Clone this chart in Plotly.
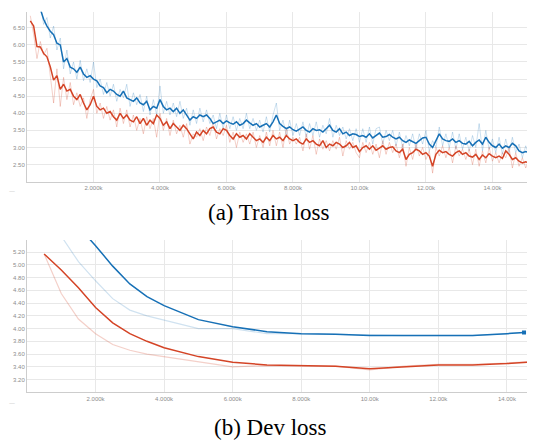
import plotly.graph_objects as go

# ---------------- Train loss data ----------------
train_steps_red = list(range(100, 15300, 100))
train_red_smooth = [
    6.70, 6.55, 5.95, 5.94, 5.75, 5.65, 5.36, 4.97, 5.10, 4.70,
    4.85, 4.65, 4.70, 4.50, 4.40, 4.55, 4.30, 4.10, 4.25, 4.50,
    4.20, 4.10, 4.15, 4.00, 4.05, 3.90, 3.80, 4.00, 3.85, 3.95,
    3.80, 3.75, 3.90, 3.70, 3.85, 3.65, 3.80, 3.70, 3.95, 3.85,
    3.65, 3.75, 3.55, 3.70, 3.60, 3.50, 3.65, 3.55, 3.40, 3.25,
    3.45, 3.35, 3.50, 3.40, 3.55, 3.60, 3.45, 3.40, 3.55, 3.50,
    3.35, 3.25, 3.40, 3.30, 3.35, 3.25, 3.40, 3.30, 3.20, 3.25,
    3.15, 3.30, 3.20, 3.35, 3.25, 3.30, 3.20, 3.35, 3.25, 3.20,
    3.25, 3.15, 3.10, 3.25, 3.15, 3.20, 3.10, 3.05, 3.20, 3.00,
    3.10, 3.05, 3.15, 3.10, 3.00, 3.05, 3.15, 3.00, 3.05, 2.88,
    3.00, 3.05, 2.95, 3.05, 2.92, 2.98, 3.05, 2.95, 3.00, 3.02,
    2.90, 2.85, 2.95, 2.65, 2.80, 2.85, 2.95, 2.90, 2.80, 2.85,
    2.75, 2.45, 2.80, 2.92, 2.85, 2.88, 2.80, 2.75, 2.85, 2.90,
    2.80, 2.85, 2.75, 2.72, 2.80, 2.65, 2.78, 2.70, 2.82, 2.75,
    2.70, 2.75, 2.68, 2.90, 2.80, 2.65, 2.70, 2.60, 2.55, 2.58,
    2.55, 2.52,
]
train_red_raw = [
    6.85, 6.30, 5.60, 6.10, 5.70, 5.90, 5.10, 4.30, 5.30, 4.20,
    5.05, 4.40, 4.90, 4.25, 4.60, 4.20, 4.45, 3.85, 4.40, 4.70,
    4.00, 4.30, 3.85, 4.20, 3.80, 4.10, 3.60, 4.15, 3.70, 4.10,
    3.60, 3.95, 3.50, 3.85, 3.40, 3.90, 3.55, 3.85, 3.30, 4.00,
    3.50, 3.85, 3.35, 3.80, 3.40, 3.65, 3.30, 3.70, 3.10, 3.40,
    3.30, 3.55, 3.20, 3.60, 3.35, 3.75, 3.25, 3.55, 3.35, 3.65,
    3.15, 3.45, 3.00, 3.45, 3.15, 3.40, 3.10, 3.45, 3.00, 3.35,
    3.00, 3.45, 3.05, 3.50, 3.05, 3.45, 3.00, 3.55, 3.10, 3.30,
    3.10, 3.30, 2.90, 3.40, 2.95, 3.35, 2.80, 3.25, 2.95, 3.20,
    2.90, 3.20, 2.95, 3.30, 2.75, 3.20, 2.95, 3.15, 2.85, 2.70,
    3.15, 2.85, 3.15, 2.80, 3.10, 2.70, 3.20, 2.80, 3.15, 2.85,
    3.10, 2.70, 3.10, 2.45, 3.00, 2.65, 3.10, 2.75, 3.00, 2.65,
    2.90, 2.25, 3.00, 2.75, 3.05, 2.70, 3.00, 2.55, 3.05, 2.75,
    2.95, 2.65, 2.95, 2.50, 2.95, 2.45, 2.90, 2.55, 3.00, 2.60,
    2.85, 2.55, 2.85, 2.70, 3.00, 2.40, 2.85, 2.45, 2.70, 2.40,
    2.65, 2.35,
]

train_steps_blue = list(range(400, 15300, 100))
train_blue_smooth = [
    7.05, 6.75, 6.55, 6.40, 6.30, 6.05, 6.00,
    5.50, 5.60, 5.35, 5.30, 5.20, 5.35, 5.15, 5.05, 5.10, 5.00,
    4.95, 4.80, 4.75, 4.60, 4.70, 4.65, 4.55, 4.50, 4.65, 4.45,
    4.40, 4.35, 4.45, 4.30, 4.25, 4.35, 4.10, 4.20, 4.15, 4.40,
    4.20, 4.10, 4.15, 4.05, 4.15, 4.00, 4.10, 3.95, 3.80, 3.90,
    3.85, 3.95, 3.90, 3.95, 3.85, 3.70, 3.75, 3.80, 3.70, 3.78,
    3.72, 3.68, 3.75, 3.65, 3.70, 3.80, 3.72, 3.65, 3.70, 3.60,
    3.65, 3.70, 3.60, 3.75, 3.95, 3.70, 3.62, 3.55, 3.60, 3.52,
    3.48, 3.55, 3.60, 3.50, 3.45, 3.55, 3.50, 3.52, 3.45, 3.55,
    3.65, 3.50, 3.45, 3.55, 3.40, 3.45, 3.35, 3.40, 3.38, 3.32,
    3.35, 3.30, 3.40, 3.28, 3.35, 3.42, 3.30, 3.32, 3.38, 3.30,
    3.25, 3.30, 3.20, 3.15, 3.22, 3.18, 3.12, 3.20, 3.28, 3.30,
    3.10, 3.00, 3.20, 3.40, 3.25, 3.20, 3.18, 3.25, 3.15, 3.20,
    3.12, 3.10, 3.18, 3.05, 3.15, 3.22, 3.10, 3.30, 3.15, 3.05,
    3.00, 3.10, 2.98, 3.05, 3.00, 3.12, 3.05, 2.90, 2.85, 2.88,
    2.85, 2.82,
]
train_blue_raw = [
    7.20, 6.60, 6.80, 6.20, 6.55, 5.85, 6.20,
    5.30, 5.85, 5.15, 5.50, 5.00, 5.55, 4.95, 5.30, 4.90, 5.50,
    4.75, 5.00, 4.55, 4.90, 4.50, 4.85, 4.35, 4.70, 4.45, 4.85,
    4.20, 4.60, 4.25, 4.55, 4.05, 4.50, 3.95, 4.40, 3.95, 4.80,
    4.00, 4.35, 3.95, 4.30, 3.90, 4.35, 3.85, 4.15, 3.65, 4.10,
    3.70, 4.15, 3.75, 4.10, 3.70, 3.95, 3.55, 4.00, 3.55, 3.95,
    3.55, 3.90, 3.50, 3.85, 3.55, 4.00, 3.55, 3.85, 3.50, 3.80,
    3.45, 3.90, 3.45, 3.95, 4.30, 3.50, 3.80, 3.35, 3.80, 3.35,
    3.70, 3.35, 3.75, 3.30, 3.70, 3.35, 3.75, 3.30, 3.65, 3.40,
    3.85, 3.30, 3.65, 3.35, 3.60, 3.25, 3.55, 3.20, 3.55, 3.15,
    3.55, 3.15, 3.60, 3.10, 3.55, 3.60, 3.10, 3.50, 3.20, 3.50,
    3.05, 3.45, 3.00, 3.35, 3.05, 3.40, 2.95, 3.40, 3.10, 3.50,
    2.90, 3.20, 3.00, 3.60, 3.05, 3.40, 3.00, 3.45, 2.95, 3.40,
    2.95, 3.30, 2.90, 3.35, 3.00, 3.70, 2.90, 3.50, 2.95, 3.25,
    2.85, 3.30, 2.80, 3.25, 2.85, 3.30, 2.85, 3.10, 2.70, 3.05,
    2.75, 2.95,
]

train_tickvals = [2000, 4000, 6000, 8000, 10000, 12000, 14000]
train_ticktext = ["2.000k", "4.000k", "6.000k", "8.000k", "10.00k", "12.00k", "14.00k"]
train_yticks = [2.5, 3.0, 3.5, 4.0, 4.5, 5.0, 5.5, 6.0, 6.5]
train_yticktext = ["2.50", "3.00", "3.50", "4.00", "4.50", "5.00", "5.50", "6.00", "6.50"]

# ---------------- Dev loss data ----------------
dev_steps_red = [500, 1000, 1500, 2000, 2500, 3000, 3500, 4000, 5000, 6000,
                 7000, 8000, 9000, 10000, 11000, 12000, 13000, 14000, 15000]
dev_red_smooth = [5.17, 4.92, 4.64, 4.33, 4.09, 3.92, 3.80, 3.70, 3.56, 3.47,
                  3.43, 3.42, 3.41, 3.37, 3.40, 3.43, 3.43, 3.45, 3.49]
dev_red_raw = [5.17, 4.55, 4.15, 3.92, 3.75, 3.66, 3.60, 3.56, 3.48, 3.40,
               3.42, 3.42, 3.41, 3.35, 3.41, 3.44, 3.44, 3.46, 3.49]

dev_steps_blue = [500, 1000, 1500, 2000, 2500, 3000, 3500, 4000, 5000, 6000,
                  7000, 8000, 9000, 10000, 11000, 12000, 13000, 14000, 14500]
dev_blue_smooth = [6.60, 6.00, 5.60, 5.30, 4.98, 4.70, 4.50, 4.36, 4.14, 4.03,
                   3.95, 3.92, 3.91, 3.89, 3.89, 3.89, 3.89, 3.92, 3.94]
dev_blue_raw = [6.20, 5.45, 5.05, 4.75, 4.47, 4.29, 4.20, 4.13, 4.00, 4.00,
                3.92, 3.92, 3.91, 3.89, 3.89, 3.89, 3.89, 3.92, 3.94]

dev_tickvals = [2000, 4000, 6000, 8000, 10000, 12000, 14000]
dev_ticktext = ["2.000k", "4.000k", "6.000k", "8.000k", "10.00k", "12.00k", "14.00k"]
dev_yticks = [3.2, 3.4, 3.6, 3.8, 4.0, 4.2, 4.4, 4.6, 4.8, 5.0, 5.2]
dev_yticktext = ["3.20", "3.40", "3.60", "3.80", "4.00", "4.20", "4.40", "4.60", "4.80", "5.00", "5.20"]

BLUE = "rgb(22,112,182)"
RED = "rgb(212,68,38)"
BLUE_LIGHT = "rgba(22,112,182,0.22)"
RED_LIGHT = "rgba(212,68,38,0.25)"

fig = go.Figure()

# train
fig.add_trace(go.Scatter(x=train_steps_blue, y=train_blue_raw, mode="lines",
                         line=dict(color=BLUE_LIGHT, width=1), xaxis="x", yaxis="y"))
fig.add_trace(go.Scatter(x=train_steps_red, y=train_red_raw, mode="lines",
                         line=dict(color=RED_LIGHT, width=1), xaxis="x", yaxis="y"))
fig.add_trace(go.Scatter(x=train_steps_blue, y=train_blue_smooth, mode="lines",
                         line=dict(color=BLUE, width=1.5), xaxis="x", yaxis="y"))
fig.add_trace(go.Scatter(x=train_steps_red, y=train_red_smooth, mode="lines",
                         line=dict(color=RED, width=1.5), xaxis="x", yaxis="y"))

# dev
fig.add_trace(go.Scatter(x=dev_steps_blue, y=dev_blue_raw, mode="lines",
                         line=dict(color="rgba(22,112,182,0.2)", width=1.2), xaxis="x2", yaxis="y2"))
fig.add_trace(go.Scatter(x=dev_steps_red, y=dev_red_raw, mode="lines",
                         line=dict(color="rgba(212,68,38,0.25)", width=1.2), xaxis="x2", yaxis="y2"))
fig.add_trace(go.Scatter(x=dev_steps_blue, y=dev_blue_smooth, mode="lines",
                         line=dict(color=BLUE, width=1.5), xaxis="x2", yaxis="y2"))
fig.add_trace(go.Scatter(x=dev_steps_red, y=dev_red_smooth, mode="lines",
                         line=dict(color=RED, width=1.5), xaxis="x2", yaxis="y2"))
fig.add_trace(go.Scatter(x=[dev_steps_blue[-1]], y=[dev_blue_smooth[-1]], mode="markers",
                         marker=dict(color=BLUE, size=4, symbol="square"), xaxis="x2", yaxis="y2"))

# page has an 8px body margin: lay the figure out in page pixels minus 8
OFF = 8
W, H = 535 - OFF, 440 - OFF

def fx(px):
    return (px - OFF) / W

def fy(py):
    return 1 - (py - OFF) / H

tickfont = dict(family="Liberation Sans, Arial, sans-serif", size=6, color="rgb(140,140,140)")
grid = "rgb(232,232,232)"
axline = "rgb(205,205,205)"

def xa(dom, rng, vals, text, anchor):
    return dict(domain=dom, range=rng, tickvals=vals, ticktext=text, showgrid=True,
                gridcolor=grid, gridwidth=1, zeroline=False, showline=True, linecolor=axline,
                linewidth=1, ticks="", tickfont=tickfont, anchor=anchor, fixedrange=True,
                automargin=False)

def ya(dom, rng, vals, text, anchor):
    return dict(domain=dom, range=rng, tickvals=vals, ticktext=text, showgrid=True,
                gridcolor=grid, gridwidth=1, zeroline=False, showline=True, linecolor=axline,
                linewidth=1, ticks="", tickfont=tickfont, anchor=anchor, fixedrange=True,
                automargin=False)

fig.update_layout(
    width=W, height=H,
    margin=dict(l=0, r=0, t=0, b=0, autoexpand=False),
    paper_bgcolor="white", plot_bgcolor="white",
    showlegend=False,
    xaxis=xa([fx(27), 1], [0, 15280], train_tickvals, train_ticktext, "y"),
    yaxis=ya([fy(181.7), fy(11.7)], [2.0, 6.97], train_yticks, train_yticktext, "x"),
    xaxis2=xa([fx(27), 1], [0, 14820], dev_tickvals, dev_ticktext, "y2"),
    yaxis2=ya([fy(392.3), fy(240)], [3.0, 5.39], dev_yticks, dev_yticktext, "x2"),
    annotations=[
        dict(text="(a) Train loss", x=fx(268), y=fy(212), xref="paper", yref="paper",
             xanchor="center", yanchor="middle", showarrow=False,
             font=dict(family="Liberation Serif, Times New Roman, serif", size=23, color="black")),
        dict(text="(b) Dev loss", x=fx(270), y=fy(427), xref="paper", yref="paper",
             xanchor="center", yanchor="middle", showarrow=False,
             font=dict(family="Liberation Serif, Times New Roman, serif", size=23, color="black")),
        dict(text="—", x=fx(12), y=fy(191), xref="paper", yref="paper",
             xanchor="center", yanchor="middle", showarrow=False,
             font=dict(size=6, color="rgb(200,200,200)")),
        dict(text="—", x=fx(12), y=fy(403), xref="paper", yref="paper",
             xanchor="center", yanchor="middle", showarrow=False,
             font=dict(size=6, color="rgb(200,200,200)")),
    ],
)

fig.write_html("out.html")
